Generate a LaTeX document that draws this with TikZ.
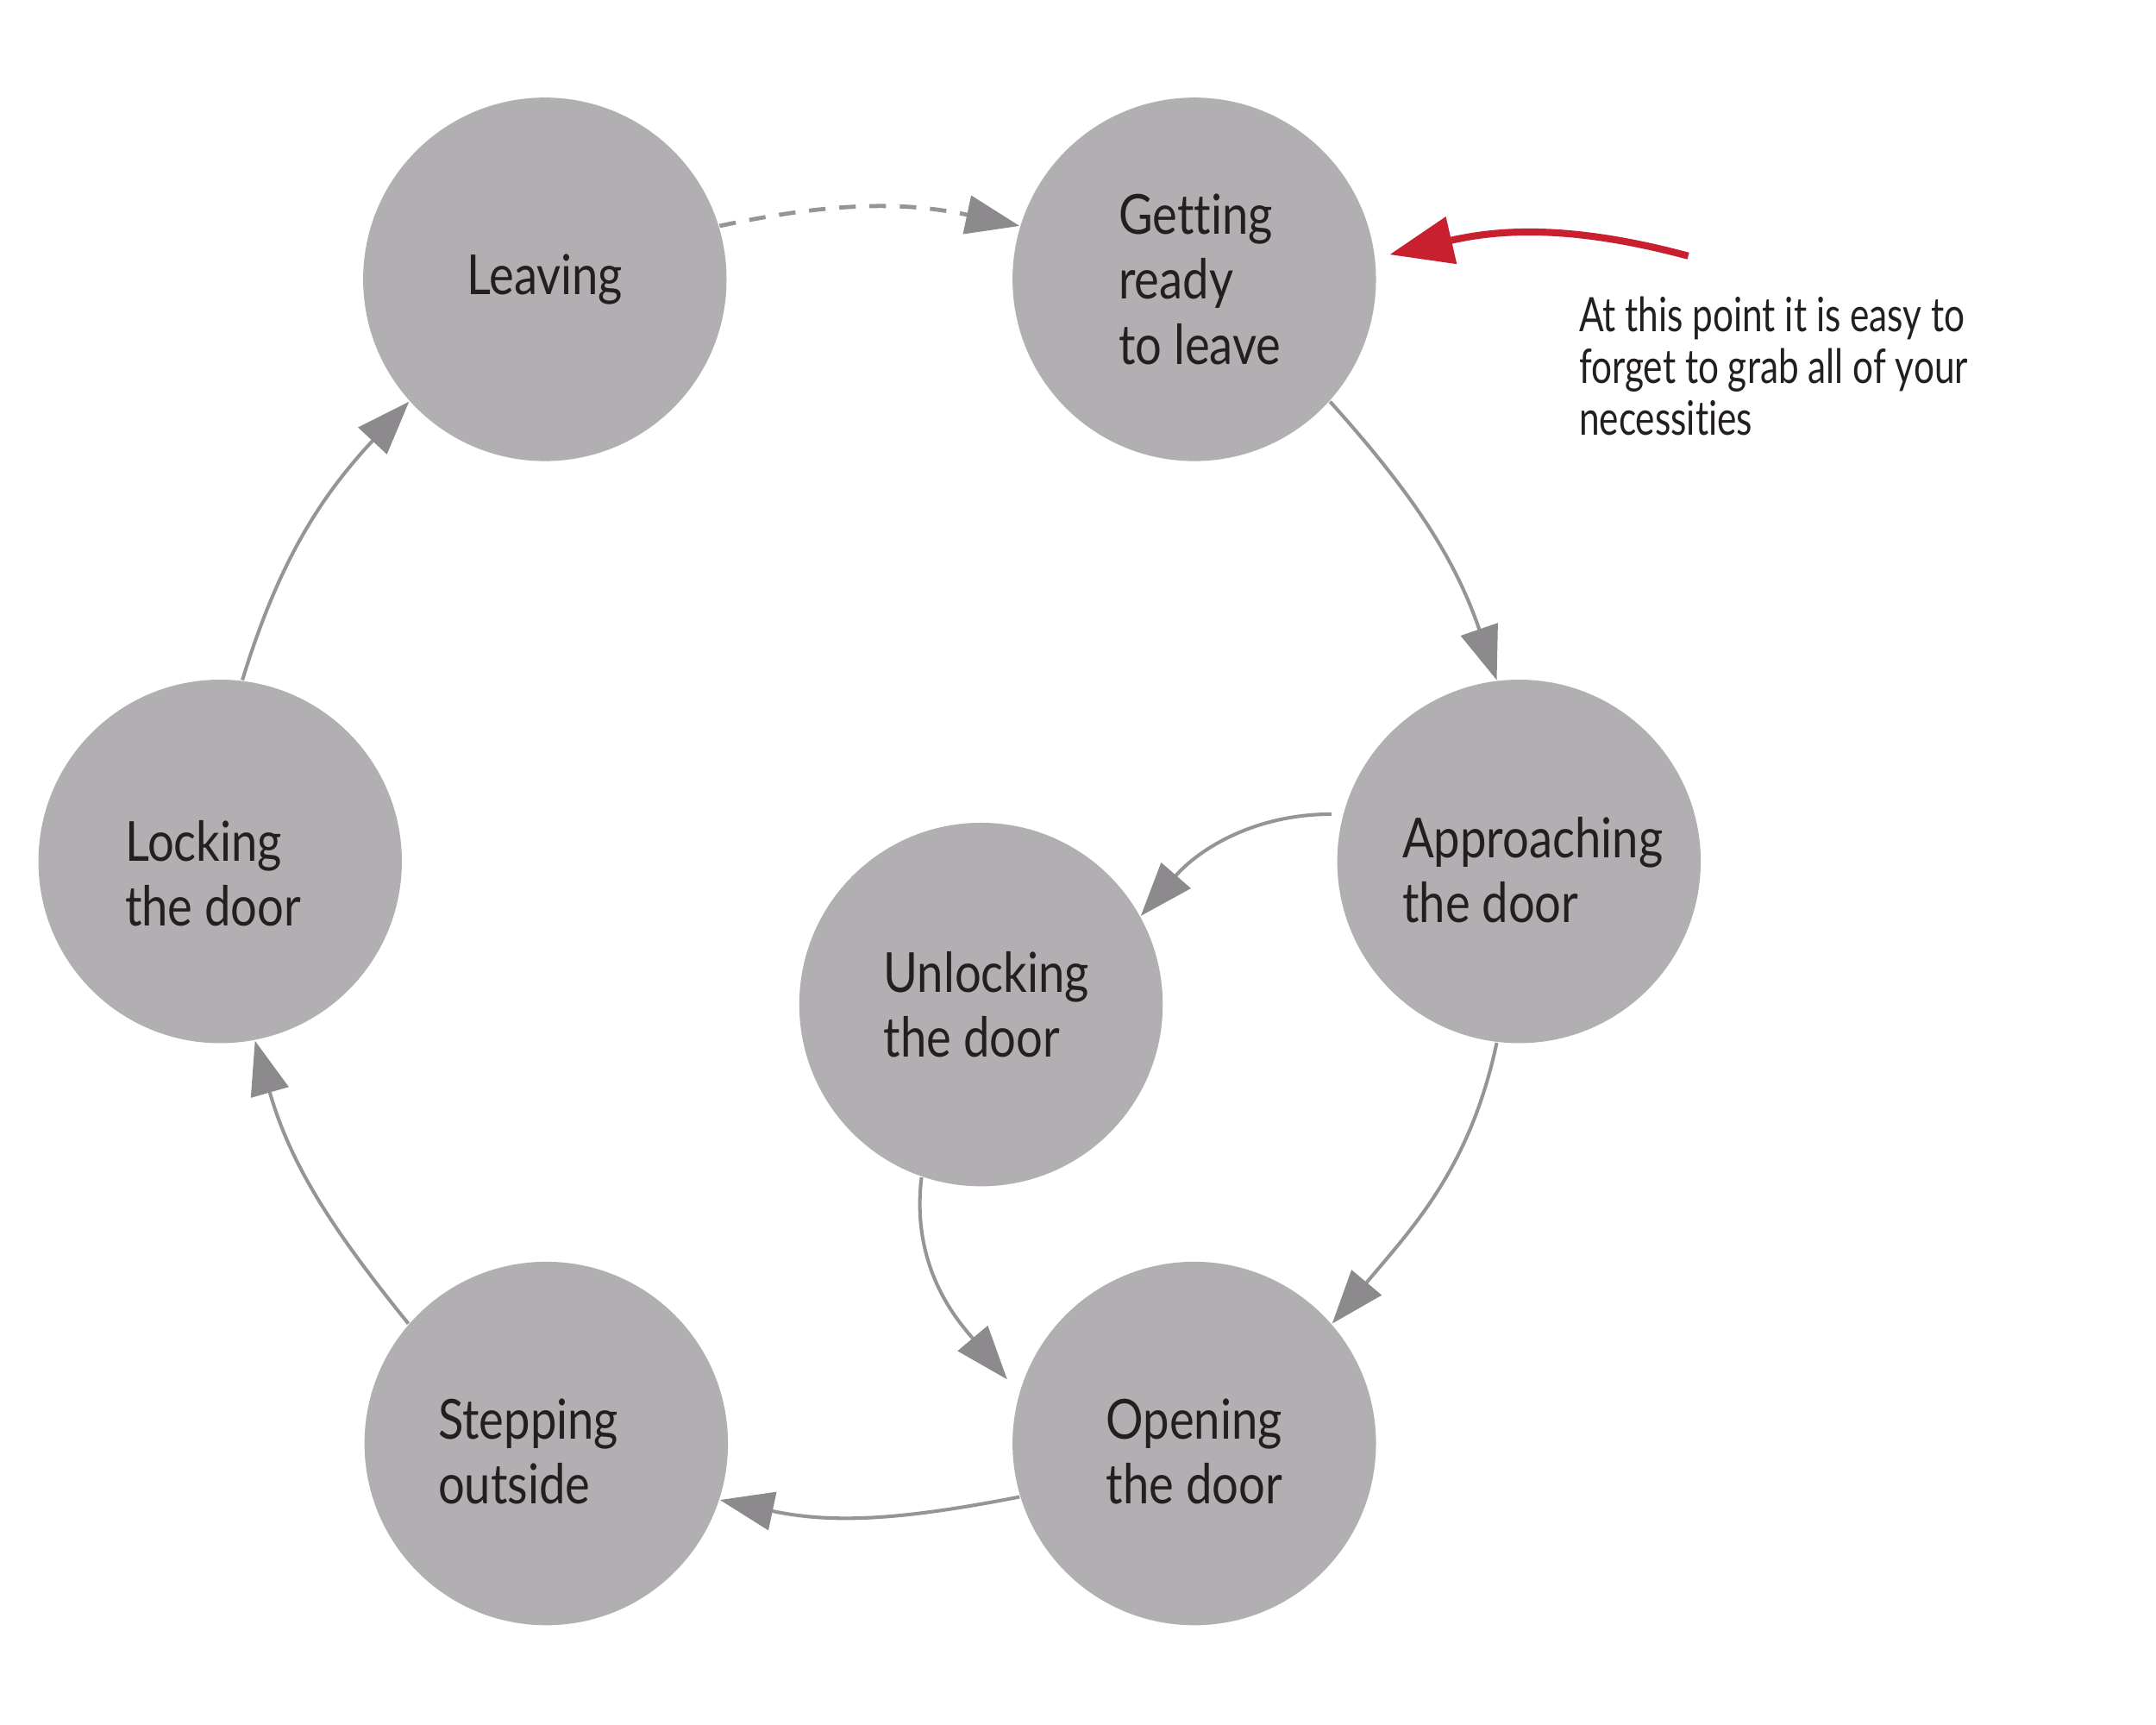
\documentclass[tikz,border=0pt]{standalone}
\usepackage{fontspec}
\setmainfont{Lato}
\newfontfamily\labelfont{Lato}[FakeStretch=0.85,Ligatures=NoCommon]
\newfontfamily\notefont{Lato}[FakeStretch=0.77,Ligatures=NoCommon]
\usetikzlibrary{arrows.meta}
\definecolor{circfill}{HTML}{B1AFB1}
\definecolor{linegray}{HTML}{959496}
\definecolor{headgray}{HTML}{8C8A8D}
\definecolor{txt}{HTML}{231F20}
\definecolor{redarr}{HTML}{C8202F}
\begin{document}
\begin{tikzpicture}[x=0.01cm,y=0.01cm,
  stage/.style={circle,fill=circfill,minimum size=2.64cm,inner sep=0pt},
  lbl/.style={align=left,text=txt,inner sep=0pt,
    font=\labelfont\fontsize{11.4}{13.4}\selectfont},
  flow/.style={draw=linegray,line width=0.72pt,
    -{Triangle[length=0.39cm,width=0.28cm,fill=headgray,color=headgray]}},
  flowdash/.style={flow,line width=0.85pt,dash pattern=on 0.12cm off 0.1cm},
  redflow/.style={draw=redarr,line width=1.45pt,
    -{Triangle[length=0.46cm,width=0.34cm,fill=redarr,color=redarr]}},
  note/.style={align=left,text=txt,inner sep=0pt,font=\notefont\fontsize{9.8}{10.7}\selectfont}]
\useasboundingbox (0,-12) rectangle (1567,1241);
\fill[white] (0,-12) rectangle (1567,1241);

\node[stage,label={[lbl]center:{Leaving}}] (leave) at (396,1038) {};
\node[stage,label={[lbl,xshift=0.04cm]center:{Getting\\ready\\to leave}}] (ready) at (868,1038) {};
\node[stage,label={[lbl,xshift=0.10cm,yshift=-0.06cm]center:{Approaching\\the door}}] (appr) at (1104,615) {};
\node[stage,label={[lbl,xshift=0.04cm]center:{Unlocking\\the door}}] (unlock) at (713,511) {};
\node[stage,label={[lbl,yshift=-0.06cm]center:{Opening\\the door}}] (open) at (868,192) {};
\node[stage,label={[lbl,xshift=-0.13cm,yshift=-0.06cm]center:{Stepping\\outside}}] (step) at (397,192) {};
\node[stage,label={[lbl,xshift=-0.05cm,yshift=-0.09cm]center:{Locking\\the door}}] (lock) at (160,615) {};

\draw[flowdash] (leave.17) to[out=12,in=168] (ready.163);
\draw[flow] (ready.-42) to[out=-48,in=109] (appr.97);
\draw[flow,shorten <=0.08cm] (appr.165) to[out=180,in=49] (unlock.29);
\draw[flow,shorten >=0.13cm] (unlock.-109) to[out=-97,in=130] (open.164);
\draw[flow] (appr.-97) to[out=-102,in=50] (open.41);
\draw[flow] (open.197) to[out=191,in=-12] (step.-18);
\draw[flow] (step.139) to[out=129,in=-74] (lock.-79);
\draw[flow] (lock.83) to[out=73,in=-133] (leave.-138);

\coordinate (redtail) at (1227,1055);
\coordinate (redtip) at (1010,1056);
\draw[redflow] (redtail) to[out=165,in=13] (redtip);

\node[note,anchor=base west] (notetext) at (1147,925)
  {At this point it is easy to\\forget to grab all of your\\necessities};
\end{tikzpicture}
\end{document}
